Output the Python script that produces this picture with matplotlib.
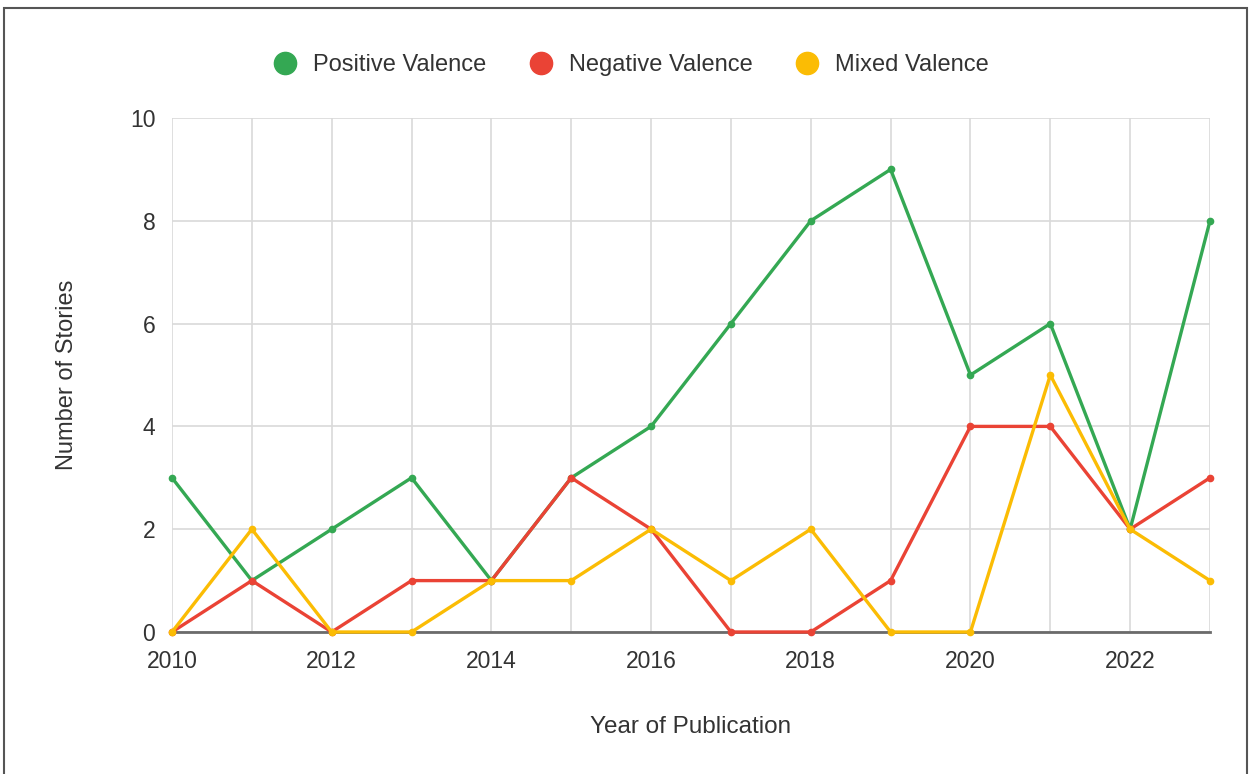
import matplotlib
matplotlib.use("Agg")
import matplotlib.pyplot as plt
from matplotlib.lines import Line2D
from matplotlib.patches import Rectangle

plt.rcParams['font.family'] = ['Liberation Sans', 'DejaVu Sans']

years = [2010, 2011, 2012, 2013, 2014, 2015, 2016, 2017, 2018, 2019, 2020, 2021, 2022, 2023]
positive = [3, 1, 2, 3, 1, 3, 4, 6, 8, 9, 5, 6, 2, 8]
negative = [0, 1, 0, 1, 1, 3, 2, 0, 0, 1, 4, 4, 2, 3]
mixed = [0, 2, 0, 0, 1, 1, 2, 1, 2, 0, 0, 5, 2, 1]

series_names = ["Positive Valence", "Negative Valence", "Mixed Valence"]
colors = ["#34a853", "#ea4335", "#fbbc04"]
x_ticks = [2010, 2012, 2014, 2016, 2018, 2020, 2022]
y_ticks = [0, 2, 4, 6, 8, 10]

text_color = '#333333'

fig = plt.figure(figsize=(12.52, 7.74), dpi=100)
ax = fig.add_axes([172 / 1252, 1 - 632 / 774, (1210 - 172) / 1252, (632 - 118) / 774])

for vals, c in zip([positive, negative, mixed], colors):
    ax.plot(years, vals, color=c, lw=2.4, marker='o', markersize=4.5,
            solid_joinstyle='round', zorder=3, clip_on=False)

ax.set_xlim(2010, 2023)
ax.set_ylim(0, 10)
ax.set_xticks(x_ticks)
ax.set_yticks(y_ticks)
ax.set_xticks(years, minor=True)
ax.grid(True, which='both', axis='x', color='#d9d9d9', lw=1.2, zorder=0)
ax.grid(True, which='major', axis='y', color='#d9d9d9', lw=1.2, zorder=0)
ax.axhline(0, color='#6b6b6b', lw=2, zorder=2, clip_on=False)
for s in ax.spines.values():
    s.set_visible(False)
ax.tick_params(axis='both', which='both', length=0, labelsize=16.5, colors=text_color)
ax.tick_params(axis='x', pad=13)
ax.tick_params(axis='y', pad=12)

ax.set_xlabel("Year of Publication", fontsize=17.5, color=text_color, labelpad=31)
ax.set_ylabel("Number of Stories", fontsize=17, color=text_color, labelpad=37)

handles = [Line2D([], [], ls='none', marker='o', markersize=16, color=c) for c in colors]
fig.legend(handles, series_names, loc='center', bbox_to_anchor=(0.504, 1 - 65 / 774),
           ncol=3, frameon=False, fontsize=17, handlelength=1.0, handletextpad=0.7,
           columnspacing=1.8, labelcolor=text_color)

fig.patches.append(Rectangle((4 / 1252, -0.05), (1247 - 4) / 1252, 1 - 8 / 774 + 0.05,
                             transform=fig.transFigure, fill=False, edgecolor='#555555',
                             lw=1.5, figure=fig))

fig.savefig("out.png", dpi=100, facecolor='white')
